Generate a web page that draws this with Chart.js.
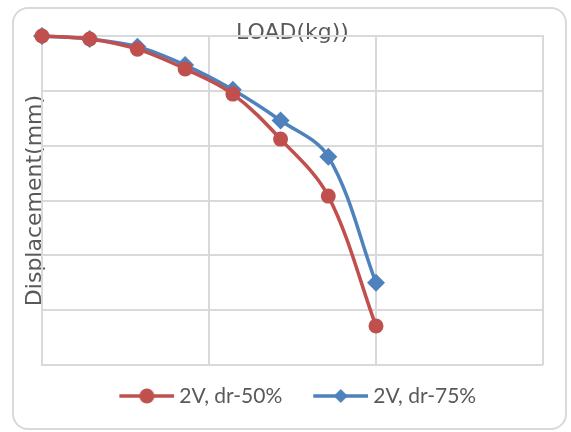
<!DOCTYPE html>
<html>
<head>
<meta charset="utf-8">
<script src="https://cdn.jsdelivr.net/npm/chart.js@4.4.1/dist/chart.umd.min.js"></script>
<style>
  html, body { margin: 0; padding: 0; background: #ffffff; }
  #wrap { position: relative; width: 571px; height: 432px; }
  #frame { position: absolute; left: 12px; top: 7px; width: 551px; height: 419px;
           border: 2px solid #d9d9d9; border-radius: 16px; pointer-events: none; }
  canvas { position: absolute; left: 0; top: 0; }
</style>
</head>
<body>
<div id="wrap">
  <canvas id="c" width="571" height="432"></canvas>
  <div id="frame"></div>
</div>
<script>
// ---- data ----
const loads = [0, 20, 40, 60, 80, 100, 120, 140];
const seriesNames = ['2V, dr-50%', '2V, dr-75%'];
const dr50 = [0, -0.27, -1.2, -3.0, -5.3, -9.4, -14.6, -26.45];
const dr75 = [0, -0.27, -0.97, -2.65, -4.9, -7.7, -11.0, -22.5];
const xTitle = 'LOAD(kg))';
const yTitle = 'Displacement(mm)';

const RED = '#C0504D';
const BLUE = '#4F81BD';
const TXT = '#595959';
const GRID = '#d9d9d9';
const LEGEND_FONT = 'Lato';
const TITLE_FONT = 'DejaVu Sans';

function legendSwatch(color, style) {
  const cv = document.createElement('canvas');
  cv.width = 71; cv.height = 18;
  const g = cv.getContext('2d');
  g.strokeStyle = color; g.lineWidth = 3.5;
  g.beginPath(); g.moveTo(16, 9); g.lineTo(71, 9); g.stroke();
  g.fillStyle = color;
  g.beginPath();
  const cx = 43.5;
  if (style === 'circle') { g.arc(cx, 9, 7.5, 0, Math.PI * 2); }
  else { g.moveTo(cx, 2); g.lineTo(cx + 7, 9); g.lineTo(cx, 16); g.lineTo(cx - 7, 9); g.closePath(); }
  g.fill();
  return cv;
}

const toPts = (ys) => loads.map((x, i) => ({ x: x, y: ys[i] }));

const datasets = [
  { label: seriesNames[0], data: toPts(dr50), borderColor: RED, backgroundColor: RED,
    borderWidth: 3.5, pointStyle: 'circle', pointRadius: 7.5, pointHoverRadius: 7.5,
    pointBorderWidth: 0, tension: 0.35, clip: false, _sw: legendSwatch(RED, 'circle') },
  { label: seriesNames[1], data: toPts(dr75), borderColor: BLUE, backgroundColor: BLUE,
    borderWidth: 3.5, pointStyle: 'rectRot', pointRadius: 9, pointHoverRadius: 9,
    pointBorderWidth: 0, tension: 0.35, clip: false, _sw: legendSwatch(BLUE, 'diamond') }
];

new Chart(document.getElementById('c'), {
  type: 'line',
  data: { datasets: datasets },
  options: {
    responsive: false,
    animation: false,
    layout: { padding: { left: 10, right: 28, top: 0, bottom: 15.5 } },
    plugins: {
      tooltip: { enabled: false },
      title: { display: false },
      legend: {
        display: true,
        position: 'bottom',
        fullSize: false,
        labels: {
          usePointStyle: true,
          pointStyleWidth: 60,
          padding: 20.5,
          color: TXT,
          font: { family: LEGEND_FONT, size: 21, lineHeight: 1.2 },
          generateLabels: (chart) => chart.data.datasets.map((ds, i) => ({
            text: ds.label, fillStyle: ds.borderColor, strokeStyle: ds.borderColor,
            lineWidth: 0, pointStyle: ds._sw, hidden: false, datasetIndex: i, fontColor: TXT
          }))
        }
      }
    },
    scales: {
      x: {
        type: 'linear', position: 'top', min: 0, max: 210,
        ticks: { display: false, stepSize: 70 },
        grid: { color: GRID, lineWidth: 2, drawTicks: false },
        border: { display: true, color: GRID, width: 2 },
        title: { display: true, text: xTitle, color: TXT,
                 font: { family: TITLE_FONT, size: 22, lineHeight: 1.2 },
                 padding: { top: 20.5, bottom: -10.9 } }
      },
      y: {
        type: 'linear', position: 'left', min: -30, max: 0,
        ticks: { display: false, stepSize: 5 },
        grid: { color: GRID, lineWidth: 2, drawTicks: false },
        border: { display: true, color: GRID, width: 2 },
        title: { display: true, text: yTitle, color: TXT,
                 font: { family: TITLE_FONT, size: 22, lineHeight: 1.2 },
                 padding: { top: 11.8, bottom: -6.2 } }
      }
    }
  }
});
</script>
</body>
</html>
